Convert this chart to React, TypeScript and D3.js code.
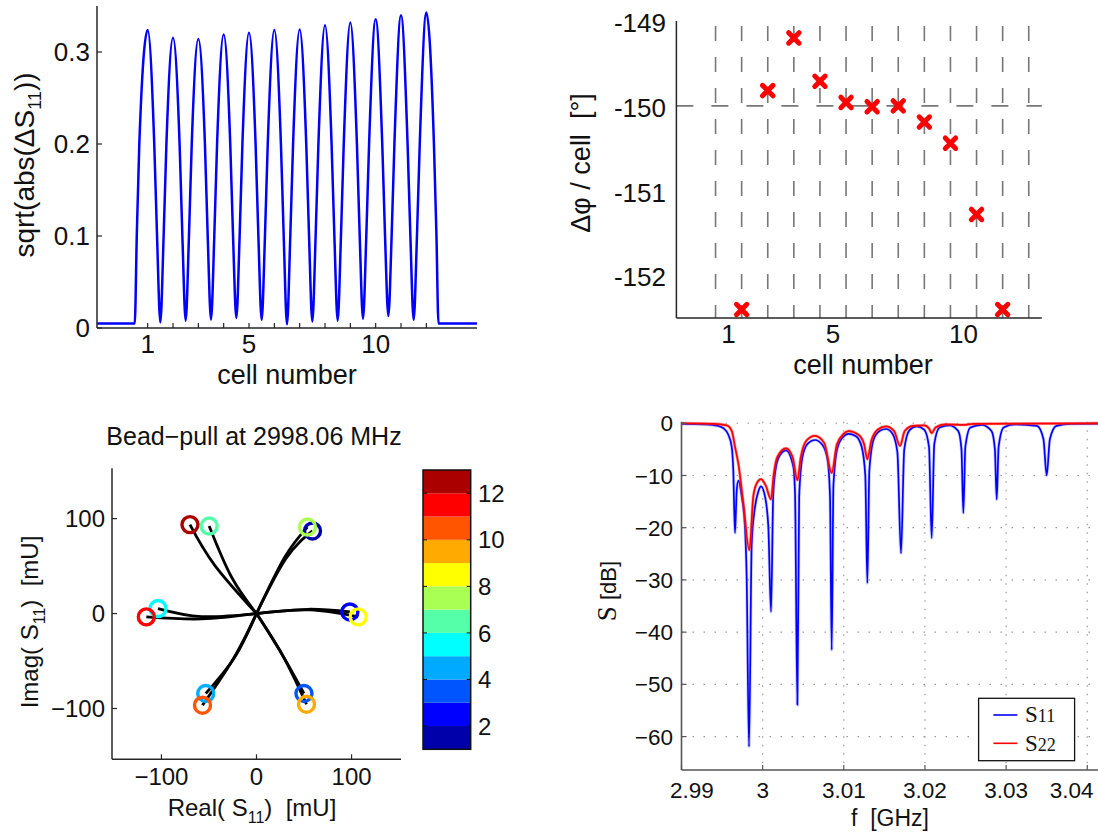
import React from 'react';
import * as d3 from 'd3';

// ---------- Panel A: sqrt(abs(ΔS11)) vs cell number ----------
const peakCells = [1, 2, 3, 4, 5, 6, 7, 8, 9, 10, 11, 12];
const peakValues = [0.324, 0.3155, 0.314, 0.319, 0.321, 0.324, 0.3245, 0.329, 0.332, 0.3355, 0.34, 0.343];
const troughCells = [1.5, 2.5, 3.5, 4.5, 5.5, 6.5, 7.5, 8.5, 9.5, 10.5, 11.5];
const troughValues = [0.006, 0.008, 0.009, 0.011, 0.009, 0.004, 0.007, 0.008, 0.01, 0.013, 0.009];
// flank crossings: distance (cells) from each trough where the trace reaches a level
const flankOffsets = [0.13, 0.24];
const flankLevels = [0.1, 0.2];
// rise before cell 1 and fall after cell 12
const riseCells = [-1, 0.49, 0.57, 0.67];
const riseValues = [0.005, 0.005, 0.1, 0.2];
const fallCells = [12.3, 12.4, 12.48, 14];
const fallValues = [0.2, 0.1, 0.005, 0.005];
const aYTicks = [0, 0.1, 0.2, 0.3];
const aYTickLabels = ['0', '0.1', '0.2', '0.3'];
const aXTickMarks = [1, 2, 3, 4, 5, 6, 7, 8, 9, 10, 11, 12];
const aXTickLabels = [1, 5, 10];

// ---------- Panel B: phase advance per cell ----------
const phaseCells = [1.5, 2.5, 3.5, 4.5, 5.5, 6.5, 7.5, 8.5, 9.5, 10.5, 11.5];
const phaseValues = [-152.4, -149.82, -149.2, -149.71, -149.96, -150.01, -150.0, -150.19, -150.44, -151.28, -152.4];
const bGridCells = [0.5, 1.5, 2.5, 3.5, 4.5, 5.5, 6.5, 7.5, 8.5, 9.5, 10.5, 11.5, 12.5];
const bYTicks = [-149, -150, -151, -152];
const bXTickLabels = [1, 5, 10];
const bTarget = -150;

// ---------- Panel C: bead-pull polar ----------
const beadCells = [1, 2, 3, 4, 5, 6, 7, 8, 9, 10, 11, 12];
const beadRe = [58.9, 98.2, 49.9, -53.4, -103.6, -49.8, 53.6, 107, 52.6, -56.8, -115.9, -70];
const beadIm = [87, 1.7, -84.2, -84.2, 5.3, 92.2, 91.1, -3.5, -95.5, -96.5, -3.5, 93.7];
const bendRe = [31, 54, 26.3, -22.8, -57.9, -26.3, 29.8, 56, 27.5, -24, -57.9, -43.9];
const bendIm = [58, 4.5, -42.1, -45.7, -3.2, 38.5, 59.6, 3.8, -44, -47, -5.6, 50.8];
const jetColors = ['#0000aa', '#0000ff', '#0055ff', '#00aaff', '#00ffff', '#55ffaa',
  '#aaff55', '#ffff00', '#ffaa00', '#ff5500', '#ff0000', '#aa0000'];
const cTicks = [-100, 0, 100];
const cbTicks = [2, 4, 6, 8, 10, 12];

// ---------- Panel D: S-parameters ----------
const s11Freq = [2.99, 2.993, 2.9945, 2.99515, 2.99577, 2.99619, 2.99638, 2.99659, 2.9968, 2.997,
  2.99742, 2.99782, 2.99803, 2.99832, 2.99865, 2.99906, 2.99946, 2.9998, 3.00029, 3.0007,
  3.00103, 3.00131, 3.00173, 3.00214, 3.00288, 3.00378, 3.00399, 3.00428, 3.0045, 3.0049,
  3.0055, 3.00645, 3.0074, 3.008, 3.0083, 3.00851, 3.00872, 3.0092, 3.0098, 3.01056,
  3.0115, 3.0122, 3.01265, 3.0129, 3.01315, 3.0137, 3.0145, 3.0152, 3.016, 3.0166,
  3.01705, 3.01745, 3.0181, 3.019, 3.0199, 3.0205, 3.02083, 3.02115, 3.0218, 3.023,
  3.0241, 3.0245, 3.02473, 3.02498, 3.0256, 3.027, 3.0282, 3.02862, 3.02884, 3.02908,
  3.0297, 3.031, 3.0338, 3.0346, 3.035, 3.0354, 3.0362, 3.038, 3.045];
const s11dB = [-0.1, -0.2, -0.5, -0.95, -2.2, -4.5, -8.9, -21.0, -13, -11.0,
  -14, -19.8, -29.4, -61.9, -23, -16, -13.1, -12.1, -14, -19.8,
  -36.1, -13.4, -7.7, -6.1, -5.2, -8.3, -13.4, -53.9, -14, -6.5,
  -4.0, -3.2, -4.2, -7, -14, -43.4, -12, -4.8, -2.8, -2.05,
  -2.5, -4.5, -10, -30.6, -9, -3, -1.4, -1.1, -2, -5.5,
  -24.9, -5, -1.3, -0.6, -1.2, -4.5, -22.0, -4, -0.8, -0.4,
  -1.5, -5, -17.2, -4.5, -0.8, -0.3, -1.5, -5, -14.6, -4.5,
  -0.8, -0.2, -0.5, -3, -10.0, -3, -0.5, -0.1, 0];
const s22Freq = [2.99, 2.994, 2.99557, 2.9962, 2.99659, 2.997, 2.99762, 2.99836, 2.99885, 2.99927,
  2.9998, 3.0004, 3.00103, 3.00135, 3.0018, 3.00288, 3.0037, 3.00428, 3.0047, 3.0054,
  3.00645, 3.0076, 3.00851, 3.00915, 3.01, 3.01056, 3.0118, 3.0125, 3.0129, 3.0134,
  3.0142, 3.0152, 3.0162, 3.01693, 3.0175, 3.0185, 3.0199, 3.0205, 3.02083, 3.0213,
  3.0225, 3.02473, 3.026, 3.045];
const s22dB = [0, -0.1, -0.4, -1.5, -4.5, -7.7, -15.3, -24.3, -14, -11.5,
  -10.7, -12, -14.6, -10, -6.5, -4.8, -6.5, -10.9, -6.5, -3.3,
  -2.4, -3.8, -9.5, -4, -2, -1.5, -2.2, -4, -6.9, -3.3,
  -1.2, -0.6, -1.5, -4.35, -1.5, -0.5, -0.4, -1.0, -1.9, -0.8,
  -0.2, -0.3, -0.1, 0];
const dXTicks = [2.99, 3.0, 3.01, 3.02, 3.03, 3.04];
const dXTickLabels = ['2.99', '3', '3.01', '3.02', '3.03', '3.04'];
const dYTicks = [0, -10, -20, -30, -40, -50, -60];

const SANS = "'Liberation Sans', Arial, Helvetica, sans-serif";
const SERIF = "'Liberation Serif', 'Times New Roman', serif";
const AX = '#262626';

function PanelA() {
  const x = d3.scaleLinear().domain([-1, 14]).range([97, 477]);
  const y = d3.scaleLinear().domain([0, 0.35]).range([328, 6]);
  const pts: [number, number][] = riseCells.map((c, i) => [c, riseValues[i]] as [number, number]);
  peakCells.forEach((c, i) => {
    pts.push([c, peakValues[i]]);
    if (i < troughCells.length) {
      const t = troughCells[i];
      pts.push([t - flankOffsets[1], flankLevels[1]], [t - flankOffsets[0], flankLevels[0]]);
      pts.push([t, troughValues[i]]);
      pts.push([t + flankOffsets[0], flankLevels[0]], [t + flankOffsets[1], flankLevels[1]]);
    }
  });
  fallCells.forEach((c, i) => pts.push([c, fallValues[i]]));
  const line = d3.line<[number, number]>().x(d => x(d[0])).y(d => y(d[1])).curve(d3.curveMonotoneX);
  const fs = 26;
  return (
    <g fontFamily={SANS} fill="#111">
      <path d={line(pts) || ''} fill="none" stroke="#0000ff" strokeWidth={2.5} strokeLinejoin="round" />
      <line x1={x(-1)} x2={x(-1)} y1={y(0.35)} y2={y(0)} stroke={AX} strokeWidth={1.5} />
      <line x1={x(-1)} x2={x(14)} y1={y(0)} y2={y(0)} stroke={AX} strokeWidth={1.5} />
      {aYTicks.map((t, i) => (
        <g key={'ay' + i}>
          <line x1={x(-1)} x2={x(-1) + 5} y1={y(t)} y2={y(t)} stroke={AX} strokeWidth={1.2} />
          <text x={x(-1) - 7} y={y(t)} dy="0.36em" textAnchor="end" fontSize={fs}>{aYTickLabels[i]}</text>
        </g>
      ))}
      {aXTickMarks.map(t => (
        <line key={'axm' + t} x1={x(t)} x2={x(t)} y1={y(0)} y2={y(0) - 5} stroke={AX} strokeWidth={1.2} />
      ))}
      {aXTickLabels.map(t => (
        <text key={'axl' + t} x={x(t)} y={353} textAnchor="middle" fontSize={fs}>{t}</text>
      ))}
      <text x={287} y={384} textAnchor="middle" fontSize={27}>cell number</text>
      <text transform="translate(34,165) rotate(-90)" textAnchor="middle" fontSize={28}>
        sqrt(abs(ΔS<tspan fontSize={18} dy={7}>11</tspan><tspan dy={-7}>))</tspan>
      </text>
    </g>
  );
}

function PanelB() {
  const x = d3.scaleLinear().domain([-1, 13]).range([676.4, 1041.8]);
  const y = d3.scaleLinear().domain([-152.5, -149]).range([318, 21]);
  const fs = 26;
  return (
    <g fontFamily={SANS} fill="#111">
      {bGridCells.map(c => (
        <line key={'bg' + c} x1={x(c)} x2={x(c)} y1={y(-149) + 5} y2={y(-152.5)} stroke="#777" strokeWidth={1.6} strokeDasharray="15,16" />
      ))}
      <line x1={x(-1)} x2={x(13)} y1={y(bTarget)} y2={y(bTarget)} stroke="#777" strokeWidth={1.6} strokeDasharray="17,18" />
      {phaseCells.map((c, i) => {
        const cx = x(c), cy = y(phaseValues[i]);
        const h = 5.2;
        return (
          <g key={'bm' + i} stroke="#ff0000" strokeWidth={5} strokeLinecap="round">
            <line x1={cx - h} y1={cy - h} x2={cx + h} y2={cy + h} />
            <line x1={cx - h} y1={cy + h} x2={cx + h} y2={cy - h} />
          </g>
        );
      })}
      <line x1={x(-1)} x2={x(-1)} y1={y(-149)} y2={y(-152.5)} stroke={AX} strokeWidth={1.5} />
      <line x1={x(-1)} x2={x(13)} y1={y(-152.5)} y2={y(-152.5)} stroke={AX} strokeWidth={1.5} />
      {bYTicks.map(t => (
        <text key={'by' + t} x={666} y={y(t)} dy="0.42em" textAnchor="end" fontSize={fs}>{String(t)}</text>
      ))}
      {bXTickLabels.map(t => (
        <text key={'bx' + t} x={x(t)} y={343} textAnchor="middle" fontSize={fs}>{t}</text>
      ))}
      <text x={863} y={374} textAnchor="middle" fontSize={27}>cell number</text>
      <text transform="translate(590,163) rotate(-90)" textAnchor="middle" fontSize={27} style={{ whiteSpace: 'pre' }}>
        {'Δφ / cell  [°]'}
      </text>
    </g>
  );
}

function PanelC() {
  const x = d3.scaleLinear().domain([-152, 152]).range([112, 401]);
  const y = d3.scaleLinear().domain([-153.5, 153]).range([759.3, 468.3]);
  const cb = d3.scaleLinear().domain([1, 13]).range([749.3, 470]);
  const line = d3.line<[number, number]>().x(d => x(d[0])).y(d => y(d[1])).curve(d3.curveNatural);
  const fs = 24;
  const cbX0 = 423, cbX1 = 470.7;
  return (
    <g fontFamily={SANS} fill="#111">
      <text x={254} y={445} textAnchor="middle" fontSize={25}>Bead−pull at 2998.06 MHz</text>
      {beadCells.map((c, i) => (
        <path key={'cl' + c} d={line([[0, 0], [bendRe[i], bendIm[i]], [beadRe[i], beadIm[i]]]) || ''}
          fill="none" stroke="#000" strokeWidth={2.8} />
      ))}
      {beadCells.map((c, i) => (
        <circle key={'cc' + c} cx={x(beadRe[i])} cy={y(beadIm[i])} r={8} fill="none"
          stroke={jetColors[i]} strokeWidth={3.4} />
      ))}
      <line x1={x(-152)} x2={x(-152)} y1={y(153)} y2={y(-153.5)} stroke={AX} strokeWidth={1.5} />
      <line x1={x(-152)} x2={x(152)} y1={y(-153.5)} y2={y(-153.5)} stroke={AX} strokeWidth={1.5} />
      {cTicks.map(t => (
        <g key={'ct' + t}>
          <line x1={x(t)} x2={x(t)} y1={y(-153.5)} y2={y(-153.5) - 5} stroke={AX} strokeWidth={1.2} />
          <line x1={x(-152)} x2={x(-152) + 5} y1={y(t)} y2={y(t)} stroke={AX} strokeWidth={1.2} />
          <text x={x(t)} y={785} textAnchor="middle" fontSize={fs}>{t < 0 ? '−' + Math.abs(t) : String(t)}</text>
          <text x={105} y={y(t)} dy="0.36em" textAnchor="end" fontSize={fs}>{t < 0 ? '−' + Math.abs(t) : String(t)}</text>
        </g>
      ))}
      <text x={252} y={816} textAnchor="middle" fontSize={fs} style={{ whiteSpace: 'pre' }}>
        {'Real( S'}<tspan fontSize={16} dy={7}>11</tspan><tspan dy={-7}>{')  [mU]'}</tspan>
      </text>
      <text transform="translate(38,622) rotate(-90)" textAnchor="middle" fontSize={fs} style={{ whiteSpace: 'pre' }}>
        {'Imag( S'}<tspan fontSize={16} dy={7}>11</tspan><tspan dy={-7}>{')  [mU]'}</tspan>
      </text>
      {jetColors.map((col, i) => (
        <rect key={'cb' + i} x={cbX0} width={cbX1 - cbX0} y={cb(i + 2)} height={cb(i + 1) - cb(i + 2)} fill={col} />
      ))}
      <rect x={cbX0} y={cb(13)} width={cbX1 - cbX0} height={cb(1) - cb(13)} fill="none" stroke="#111" strokeWidth={1.5} />
      {cbTicks.map(t => (
        <g key={'cbt' + t}>
          <line x1={cbX1} x2={cbX1 - 4} y1={cb(t)} y2={cb(t)} stroke="#111" strokeWidth={1} />
          <line x1={cbX0} x2={cbX0 + 4} y1={cb(t)} y2={cb(t)} stroke="#111" strokeWidth={1} />
          <text x={478} y={cb(t)} dy="0.36em" textAnchor="start" fontSize={fs}>{t}</text>
        </g>
      ))}
    </g>
  );
}

function PanelD() {
  const x = d3.scaleLinear().domain([2.99, 3.045]).range([681.5, 681.5 + 0.055 * 8115]);
  const y = d3.scaleLinear().domain([-66.4, 0.3]).range([770, 421.7]);
  const line = d3.line<[number, number]>().x(d => x(d[0])).y(d => y(d[1])).curve(d3.curveMonotoneX);
  const s11: [number, number][] = s11Freq.map((f, i) => [f, s11dB[i]]);
  const s22: [number, number][] = s22Freq.map((f, i) => [f, s22dB[i]]);
  const fs = 22.5;
  const left = x(2.99), right = 1098, bottom = y(-66.4), top = y(0.3);
  return (
    <g fontFamily={SANS} fill="#111">
      <defs>
        <clipPath id="clipD"><rect x={left} y={top - 6} width={right - left} height={bottom - top + 6} /></clipPath>
      </defs>
      {dXTicks.slice(1).map(t => (
        <line key={'dgx' + t} x1={x(t)} x2={x(t)} y1={top} y2={bottom} stroke="#9a9a9a" strokeWidth={1.2} strokeDasharray="1.5,7" />
      ))}
      {dYTicks.map(t => (
        <line key={'dgy' + t} x1={left} x2={right} y1={y(t)} y2={y(t)} stroke="#9a9a9a" strokeWidth={1.2} strokeDasharray="1.5,9.5" />
      ))}
      <g clipPath="url(#clipD)">
        <path d={line(s11) || ''} fill="none" stroke="#8f8fff" strokeWidth={3.2} strokeOpacity={0.45} />
        <path d={line(s11) || ''} fill="none" stroke="#0000ff" strokeWidth={1.7} />
        <path d={line(s22) || ''} fill="none" stroke="#ff4040" strokeWidth={3} strokeOpacity={0.5} />
        <path d={line(s22) || ''} fill="none" stroke="#ff0000" strokeWidth={1.7} />
      </g>
      <line x1={left} x2={left} y1={top} y2={bottom} stroke="#555" strokeWidth={1.6} />
      <line x1={left} x2={right} y1={bottom} y2={bottom} stroke="#555" strokeWidth={1.6} />
      {dXTicks.map((t, i) => {
        const lbl = dXTickLabels[i];
        const half = lbl.length * fs * 0.27;
        const lx = Math.min(Math.max(x(t), left - 14 + half), 1096 - half);
        return (
          <g key={'dxt' + t}>
            <line x1={x(t)} x2={x(t)} y1={bottom} y2={bottom - 5} stroke="#555" strokeWidth={1.2} />
            <text x={lx} y={798} textAnchor="middle" fontSize={fs}>{lbl}</text>
          </g>
        );
      })}
      {dYTicks.map(t => (
        <g key={'dyt' + t}>
          <line x1={left} x2={left + 5} y1={y(t)} y2={y(t)} stroke="#555" strokeWidth={1.2} />
          <text x={673} y={y(t)} dy="0.36em" textAnchor="end" fontSize={fs}>{t < 0 ? '−' + Math.abs(t) : '0'}</text>
        </g>
      ))}
      <text x={890} y={826} textAnchor="middle" fontSize={23} style={{ whiteSpace: 'pre' }}>{'f  [GHz]'}</text>
      <text transform="translate(616,591) rotate(-90)" textAnchor="middle" style={{ whiteSpace: 'pre' }}>
        <tspan fontFamily={SERIF} fontSize={27}>S</tspan><tspan fontSize={22}>{' [dB]'}</tspan>
      </text>
      <rect x={978.6} y={698.3} width={96} height={62.4} fill="#fff" stroke="#111" strokeWidth={1.3} />
      <line x1={993.4} x2={1017.3} y1={715} y2={715} stroke="#0000ff" strokeWidth={1.6} />
      <line x1={993.4} x2={1017.3} y1={743.3} y2={743.3} stroke="#ff0000" strokeWidth={1.6} />
      <text x={1025} y={722} fontFamily={SERIF} fontSize={23}>S<tspan fontSize={18}>11</tspan></text>
      <text x={1025} y={750.5} fontFamily={SERIF} fontSize={23}>S<tspan fontSize={18}>22</tspan></text>
    </g>
  );
}

export default function App() {
  return (
    <svg width={1098} height={836} viewBox="0 0 1098 836"
      style={{ position: 'absolute', left: 0, top: 0, background: '#fff' }}>
      <rect x={0} y={0} width={1098} height={836} fill="#fff" />
      <PanelA />
      <PanelB />
      <PanelC />
      <PanelD />
    </svg>
  );
}
